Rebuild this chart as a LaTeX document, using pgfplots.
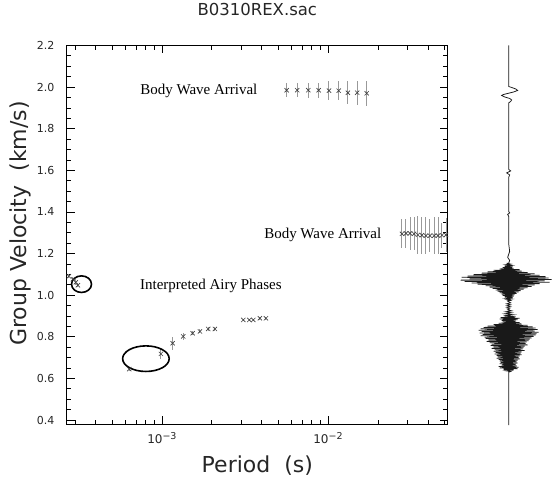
\documentclass[border=0pt]{standalone}
\usepackage{fontspec}
\setmainfont{DejaVu Sans}
\newfontfamily\hfont{DejaVu Sans}
\newfontfamily\tfont{Liberation Serif}
\usepackage{pgfplots}
\usepackage{pgfplotstable}
\pgfplotsset{compat=1.18}

\pgfplotstableread{
x y ey
5.64e-3 1.985 0.034
6.53e-3 1.985 0.034
7.61e-3 1.985 0.036
8.79e-3 1.985 0.036
1.014e-2 1.983 0.045
1.160e-2 1.983 0.045
1.318e-2 1.973 0.055
1.50e-2 1.973 0.058
1.71e-2 1.970 0.060
}\topcluster

\pgfplotstableread{
x y ey
0.0279 1.295 0.07
0.0295 1.297 0.07
0.0312 1.297 0.08
0.0330 1.295 0.08
0.0348 1.290 0.09
0.0368 1.288 0.09
0.0389 1.286 0.09
0.0411 1.286 0.08
0.0436 1.286 0.09
0.0460 1.286 0.09
0.0486 1.288 0.06
0.0514 1.290 0.08
}\rightcluster

\pgfplotstableread{
x y ey
2.75e-4 1.091 0.010
2.91e-4 1.077 0.012
3.03e-4 1.062 0.015
3.12e-4 1.048 0.010
}\leftcluster

\pgfplotstableread{
x y ey
6.36e-4 0.645 0.008
9.86e-4 0.718 0.025
1.16e-3 0.769 0.030
1.343e-3 0.802 0.015
1.531e-3 0.817 0.010
1.694e-3 0.826 0.010
1.90e-3 0.838 0.008
2.085e-3 0.838 0.008
3.09e-3 0.881 0.006
3.36e-3 0.881 0.006
3.55e-3 0.881 0.006
3.89e-3 0.889 0.006
4.23e-3 0.889 0.006
}\midcluster

\begin{document}
\begin{tikzpicture}[x=1pt,y=1pt]
\path (0,0) rectangle (552,477);
\begin{axis}[
  at={(67pt,56pt)}, anchor=south west, scale only axis,
  width=381pt, height=379pt,
  xmode=log, xmin=2.68e-4, xmax=0.0526, ymin=0.38, ymax=2.2,
  xtick={1e-3,1e-2},
  xticklabels={{10\raisebox{0.55ex}{\fontsize{9.5}{10}\selectfont −3}},{10\raisebox{0.55ex}{\fontsize{9.5}{10}\selectfont −2}}},
  minor xtick={3e-4,4e-4,5e-4,6e-4,7e-4,8e-4,9e-4,2e-3,3e-3,4e-3,5e-3,6e-3,7e-3,8e-3,9e-3,2e-2,3e-2,4e-2,5e-2},
  ytick={0.4,0.6,0.8,1.0,1.2,1.4,1.6,1.8,2.0,2.2},
  minor y tick num=3,
  yticklabel style={/pgf/number format/fixed, /pgf/number format/fixed zerofill, /pgf/number format/precision=1, /pgf/number format/assume math mode=true, xshift=-9pt, font=\hfont\fontsize{11}{12}\selectfont},
  xticklabel style={yshift=-5pt, font=\hfont\fontsize{12}{12}\selectfont},
  tick label style={text=black!85},
  tick align=inside, xtick pos=both, ytick pos=both,
  major tick length=8pt, minor tick length=4.5pt,
  every tick/.style={black, line width=0.8pt},
  axis line style={line width=1pt},
  title={B0310REX.sac},
  title style={font=\hfont\fontsize{16.5}{18}\selectfont, text=black!85, at={(axis description cs:0.5,1.079)}, anchor=center},
  xlabel={Period~~(s)},
  xlabel style={font=\hfont\fontsize{22}{24}\selectfont, text=black!85, at={(axis description cs:0.5,-0.108)}, anchor=center},
  ylabel={Group Velocity~~(km/s)},
  ylabel style={font=\hfont\fontsize{22}{24}\selectfont, text=black!85, at={(axis description cs:-0.1234,0.53)}, anchor=center},
  clip=false,
]
\addplot[only marks, mark=x, mark size=3pt, black!75, line width=0.65pt,
  error bars/.cd, y dir=both, y explicit, error mark=none,
  error bar style={black!40, line width=1pt}]
  table[x=x, y=y, y error=ey] {\topcluster};
\addplot[only marks, mark=x, mark size=3pt, black!75, line width=0.65pt,
  error bars/.cd, y dir=both, y explicit, error mark=none,
  error bar style={black!40, line width=1pt}]
  table[x=x, y=y, y error=ey] {\rightcluster};
\addplot[only marks, mark=x, mark size=3pt, black!75, line width=0.65pt,
  error bars/.cd, y dir=both, y explicit, error mark=none,
  error bar style={black!40, line width=1pt}]
  table[x=x, y=y, y error=ey] {\leftcluster};
\addplot[only marks, mark=x, mark size=3pt, black!75, line width=0.65pt,
  error bars/.cd, y dir=both, y explicit, error mark=none,
  error bar style={black!40, line width=1pt}]
  table[x=x, y=y, y error=ey] {\midcluster};
\draw[line width=1.6pt] (axis cs:3.28e-4,1.053) ellipse [x radius=10pt, y radius=8.3pt];
\draw[line width=1.6pt] (axis cs:8.01e-4,0.695) ellipse [x radius=23.3pt, y radius=12.8pt];
\end{axis}

\begin{axis}[
  at={(0pt,0pt)}, anchor=south west, scale only axis,
  width=552pt, height=477pt,
  xmin=0, xmax=552, ymin=0, ymax=477, y dir=reverse,
  hide axis, clip=false,
]
\addplot[black!90, line width=0.75pt] coordinates {
(509,42) (509,83) (512,84) (516,85.5) (518,87) (514,88.5) (508,90) (504,91) (502,92) (505,93.5) (510,95) (512,96.5) (511,98) (509,99.5) (509,102)
(509,166) (511,167.5) (507,169.5) (510,171.5) (509,174)
(509,208) (510,209.5) (508,211) (509,213)
(509,240) (510,248) (508,254) (510,257) (509,260)
(507,260.0) (511,260.7) (506,261.4) (512,262.1) (505,262.8) (513,263.5) (503,264.2) (514,264.9)
(500,265.6) (520,266.3) (494,267.0) (522,267.7) (488,268.4) (528,269.1) (482,269.8) (535,270.5)
(474,271.2) (540,271.9) (468,272.6) (546,273.3) (462,274.0) (549,274.7) (470,275.4) (552,276.1)
(461,276.8) (545,277.5) (465,278.2) (550,278.9) (472,279.6) (540,280.3) (478,281.0) (535,281.7)
(486,282.4) (532,283.1) (490,283.8) (528,284.5) (493,285.2) (524,285.9) (496,286.6) (521,287.3)
(498,288.0) (519,288.7) (500,289.4) (517,290.1) (502,290.8) (515,291.5) (503,292.2) (514,292.9)
(505,293.6) (513,294.3) (506,295.0) (512,295.7) (507,296.4) (511,297.1) (508,297.8) (509,298.5)
(511,299.5) (507,300.5) (511,301.5) (507,302.5) (511,303.5) (507,304.5) (510,305.5) (508,306.5)
(512,307.5) (506,308.5) (512,309.5) (505,310.5) (514,311.5) (504,312.5) (516,313.5) (501,314.3)
(520,315.0) (500,315.7) (518,316.4) (502,317.1) (516,317.8) (503,318.5) (520,319.2) (499,319.9)
(522,320.6) (494,321.3) (528,322.0) (488,322.7) (533,323.4) (484,324.1) (536,324.8) (481,325.5)
(538,326.2) (479,326.9) (535,327.6) (482,328.3) (539,329.0) (480,329.7) (537,330.4) (483,331.1)
(536,331.8) (481,332.5) (534,333.2) (485,333.9) (532,334.6) (486,335.3) (530,336.0) (489,336.7)
(529,337.4) (487,338.1) (527,338.8) (490,339.5) (526,340.2) (492,340.9) (528,341.6) (491,342.3)
(525,343.0) (494,343.7) (524,344.4) (492,345.1) (523,345.8) (495,346.5) (525,347.2) (494,347.9)
(522,348.6) (496,349.3) (521,350.0) (495,350.7) (522,351.4) (497,352.1) (520,352.8) (498,353.5)
(519,354.2) (497,354.9) (520,355.6) (499,356.3) (518,357.0) (500,357.7) (517,358.4) (501,359.1)
(518,359.8) (500,360.5) (516,361.2) (502,361.9) (517,362.6) (499,363.3) (519,364.0) (500,364.7)
(518,365.4) (504,366.1) (514,366.8) (506,367.5) (511,368.2) (509,369.0) (509,422)
};
\node[font=\tfont\fontsize{15}{18}\selectfont] at (axis cs:199,87) {Body Wave Arrival};
\node[font=\tfont\fontsize{15}{18}\selectfont] at (axis cs:323,232) {Body Wave Arrival};
\node[font=\tfont\fontsize{15}{18}\selectfont] at (axis cs:211,283) {Interpreted Airy Phases};
\end{axis}
\end{tikzpicture}
\end{document}
